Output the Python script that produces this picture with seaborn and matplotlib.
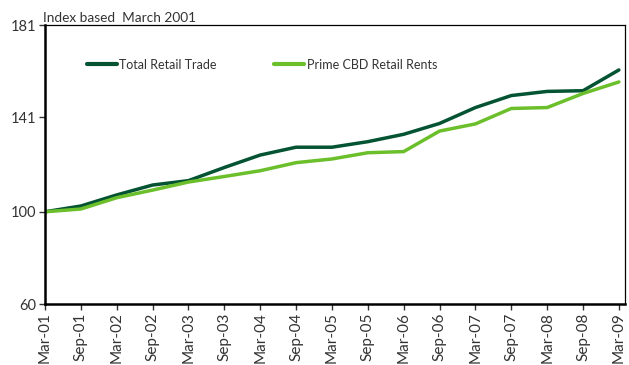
import matplotlib
matplotlib.use("Agg")
import matplotlib.pyplot as plt
import seaborn as sns
import pandas as pd
import numpy as np

periods = ["Mar-01", "Sep-01", "Mar-02", "Sep-02", "Mar-03", "Sep-03", "Mar-04", "Sep-04",
           "Mar-05", "Sep-05", "Mar-06", "Sep-06", "Mar-07", "Sep-07", "Mar-08", "Sep-08", "Mar-09"]
total_retail_trade = [100.0, 102.5, 107.3, 111.6, 113.5, 119.2, 124.6, 128.0,
                      128.0, 130.4, 133.6, 138.3, 145.2, 150.4, 152.2, 152.5, 161.5]
prime_cbd_rents = [100.0, 101.2, 106.1, 109.4, 112.9, 115.3, 117.8, 121.3,
                   122.9, 125.6, 126.1, 135.0, 138.1, 144.8, 145.2, 151.3, 156.3]
series_names = ["Total Retail Trade", "Prime CBD Retail Rents"]
y_ticks = [60, 100, 141, 181]

df = pd.DataFrame({
    "idx": list(range(len(periods))) * 2,
    "value": total_retail_trade + prime_cbd_rents,
    "series": [series_names[0]] * len(periods) + [series_names[1]] * len(periods),
})

sns.set_theme(style="white")
plt.rcParams["font.family"] = ["Lato", "DejaVu Sans"]

fig = plt.figure(figsize=(6.29, 3.65), dpi=100)
ax = fig.add_axes([0.0715, 0.1671, 0.9221, 0.7644])

palette = {series_names[0]: "#045332", series_names[1]: "#6abf2b"}
sns.lineplot(data=df, x="idx", y="value", hue="series", palette=palette,
             linewidth=2.5, ax=ax, legend=True)

ax.set_xlim(0, 16.17)
ax.set_ylim(60, 181)
ax.set_yticks(y_ticks)
ax.set_yticklabels([str(t) for t in y_ticks], fontsize=10.5, color="#333333")
ax.set_xticks(range(len(periods)))
ax.set_xticklabels(periods, rotation=90, fontsize=11, color="#333333")
ax.set_xlabel("")
ax.set_ylabel("")

for s in ["left", "bottom"]:
    ax.spines[s].set_linewidth(1.8)
    ax.spines[s].set_color("black")
for s in ["top", "right"]:
    ax.spines[s].set_linewidth(0.9)
    ax.spines[s].set_color("black")

ax.tick_params(axis="both", which="both", direction="out", length=4, width=1,
               color="#333333", pad=2, left=True, bottom=True)

leg = ax.legend(loc="upper left", bbox_to_anchor=(0.053, 0.92), ncol=2, frameon=False,
                fontsize=9, handlelength=2.4, handletextpad=0.2, columnspacing=4.6,
                labelcolor="#333333")
for line in leg.get_lines():
    line.set_linewidth(3)

ax.text(-0.003, 1.005, "Index based  March 2001", transform=ax.transAxes,
        ha="left", va="bottom", fontsize=9.8, color="#333333")

fig.savefig("out.png", dpi=100)
